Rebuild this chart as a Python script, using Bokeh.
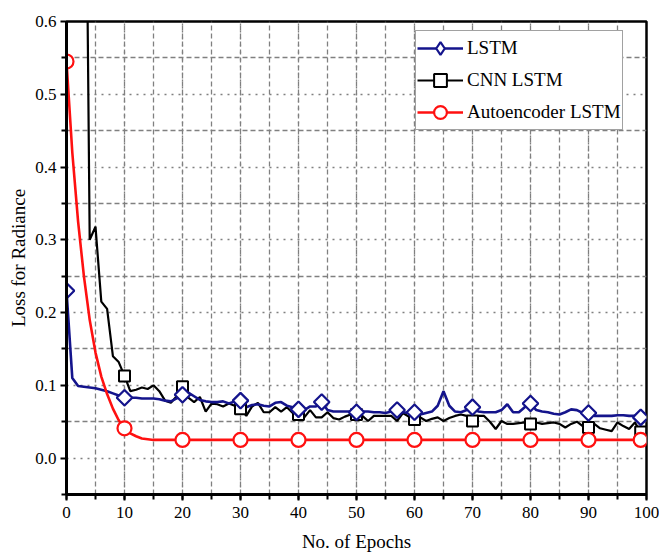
from bokeh.plotting import figure
from bokeh.models import (Range1d, SingleIntervalTicker, FixedTicker,
                          PrintfTickFormatter, Legend, LegendItem,
                          ColumnDataSource)
from bokeh.embed import file_html
from bokeh.resources import INLINE

# Training loss per epoch (0..99)
epochs = list(range(100))

lstm_loss = [
    0.230, 0.110, 0.099, 0.098, 0.097, 0.096, 0.094, 0.092, 0.089, 0.086,
    0.083, 0.083, 0.083, 0.082, 0.082, 0.082, 0.081, 0.079, 0.078, 0.082,
    0.087, 0.090, 0.085, 0.080, 0.078, 0.077, 0.077, 0.078, 0.075, 0.078,
    0.079, 0.070, 0.073, 0.074, 0.072, 0.071, 0.076, 0.077, 0.072, 0.070,
    0.067, 0.066, 0.071, 0.071, 0.077, 0.066, 0.064, 0.064, 0.064, 0.064,
    0.063, 0.064, 0.064, 0.063, 0.063, 0.062, 0.064, 0.066, 0.063, 0.062,
    0.063, 0.060, 0.062, 0.064, 0.072, 0.092, 0.072, 0.064, 0.063, 0.066,
    0.070, 0.064, 0.063, 0.063, 0.063, 0.066, 0.074, 0.063, 0.063, 0.070,
    0.075, 0.066, 0.064, 0.063, 0.061, 0.060, 0.063, 0.067, 0.066, 0.062,
    0.062, 0.058, 0.058, 0.058, 0.058, 0.059, 0.059, 0.058, 0.058, 0.056,
]

cnn_lstm_loss = [
    1.900, 1.600, 1.350, 1.150, 0.300, 0.318, 0.215, 0.205, 0.140, 0.132,
    0.113, 0.092, 0.094, 0.097, 0.095, 0.100, 0.092, 0.079, 0.076, 0.085,
    0.098, 0.083, 0.077, 0.084, 0.064, 0.075, 0.074, 0.071, 0.075, 0.072,
    0.068, 0.058, 0.071, 0.076, 0.063, 0.063, 0.070, 0.064, 0.070, 0.062,
    0.060, 0.056, 0.066, 0.056, 0.056, 0.063, 0.055, 0.053, 0.057, 0.060,
    0.060, 0.058, 0.051, 0.058, 0.058, 0.058, 0.058, 0.051, 0.062, 0.057,
    0.053, 0.056, 0.051, 0.054, 0.056, 0.051, 0.055, 0.058, 0.060, 0.058,
    0.051, 0.058, 0.058, 0.050, 0.040, 0.051, 0.047, 0.047, 0.048, 0.049,
    0.047, 0.049, 0.047, 0.048, 0.049, 0.047, 0.042, 0.047, 0.050, 0.044,
    0.042, 0.047, 0.041, 0.039, 0.037, 0.049, 0.044, 0.040, 0.049, 0.036,
]

autoencoder_lstm_loss = [
    0.545, 0.420, 0.325, 0.250, 0.190, 0.145, 0.112, 0.088, 0.068, 0.052,
    0.041, 0.034, 0.030, 0.027, 0.026, 0.025, 0.025, 0.025, 0.025, 0.025,
    0.025, 0.025, 0.025, 0.025, 0.025, 0.025, 0.025, 0.025, 0.025, 0.025,
    0.025, 0.025, 0.025, 0.025, 0.025, 0.025, 0.025, 0.025, 0.025, 0.025,
    0.025, 0.025, 0.025, 0.025, 0.025, 0.025, 0.025, 0.025, 0.025, 0.025,
    0.025, 0.025, 0.025, 0.025, 0.025, 0.025, 0.025, 0.025, 0.025, 0.025,
    0.025, 0.025, 0.025, 0.025, 0.025, 0.025, 0.025, 0.025, 0.025, 0.025,
    0.025, 0.025, 0.025, 0.025, 0.025, 0.025, 0.025, 0.025, 0.025, 0.025,
    0.025, 0.025, 0.025, 0.025, 0.025, 0.025, 0.025, 0.025, 0.025, 0.025,
    0.025, 0.025, 0.025, 0.025, 0.025, 0.025, 0.025, 0.025, 0.025, 0.025,
]

# Epochs at which each curve carries a symbol
marker_epochs = [0, 10, 20, 30, 40, 50, 60, 70, 80, 90, 99]
lstm_marker_epochs = [0, 10, 20, 30, 40, 44, 50, 57, 60, 70, 80, 90, 99]

series_names = ["LSTM", "CNN LSTM", "Autoencoder LSTM"]

# y-axis ticks
y_major_ticks = [0.0, 0.1, 0.2, 0.3, 0.4, 0.5, 0.6]
y_minor_ticks = [-0.05, 0.05, 0.15, 0.25, 0.35, 0.45, 0.55]

SERIF = "Liberation Serif"
BLUE = "#14148c"
RED = "#ff1010"
BLACK = "#000000"
GRID = "#808080"

p = figure(width=659, height=554,
           x_range=Range1d(0, 100), y_range=Range1d(-0.05, 0.6),
           output_backend="svg", toolbar_location=None,
           min_border_left=66, min_border_right=13,
           min_border_top=21, min_border_bottom=57,
           background_fill_color="white", border_fill_color="white")

# axes and ticks
xticker = SingleIntervalTicker(interval=10, num_minor_ticks=2)
yticker = FixedTicker(ticks=y_major_ticks, minor_ticks=y_minor_ticks)
p.xaxis.ticker = xticker
p.xgrid.ticker = xticker
p.yaxis.ticker = yticker
p.ygrid.ticker = yticker
p.yaxis.formatter = PrintfTickFormatter(format="%.1f")

for ax in (p.xaxis, p.yaxis):
    ax.axis_line_width = 3
    ax.axis_line_color = "black"
    ax.major_tick_line_width = 2
    ax.minor_tick_line_width = 2
    ax.major_tick_line_color = "black"
    ax.minor_tick_line_color = "black"
    ax.major_tick_in = 0
    ax.major_tick_out = 6
    ax.minor_tick_in = 0
    ax.minor_tick_out = 5
    ax.major_label_text_font = SERIF
    ax.major_label_text_font_size = "17px"
    ax.major_label_text_color = "black"
    ax.axis_label_text_font = SERIF
    ax.axis_label_text_font_size = "19px"
    ax.axis_label_text_font_style = "normal"
    ax.axis_label_text_color = "black"

p.xaxis.axis_label = "No. of Epochs"
p.yaxis.axis_label = "Loss for Radiance"
p.xaxis.major_label_standoff = 6
p.xaxis.axis_label_standoff = 10
p.yaxis.major_label_standoff = 4
p.yaxis.axis_label_standoff = 3

p.outline_line_color = "black"
p.outline_line_width = 2.5
p.outline_line_alpha = 1

# grid: dotted at major steps, dashed at half steps
for g in (p.xgrid, p.ygrid):
    g.grid_line_color = GRID
    g.grid_line_width = 1.3
    g.grid_line_dash = "2 5"
    g.minor_grid_line_color = GRID
    g.minor_grid_line_width = 1.3
    g.minor_grid_line_dash = "5 3"

lstm_src = ColumnDataSource(dict(x=epochs, y=lstm_loss))
cnn_src = ColumnDataSource(dict(x=epochs, y=cnn_lstm_loss))
ae_src = ColumnDataSource(dict(x=epochs, y=autoencoder_lstm_loss))

lstm_mk = ColumnDataSource(dict(x=lstm_marker_epochs,
                                y=[lstm_loss[e] for e in lstm_marker_epochs]))
cnn_mk = ColumnDataSource(dict(x=marker_epochs,
                               y=[cnn_lstm_loss[e] for e in marker_epochs]))
ae_mk = ColumnDataSource(dict(x=marker_epochs,
                              y=[autoencoder_lstm_loss[e] for e in marker_epochs]))

cnn_line = p.line("x", "y", source=cnn_src, line_color=BLACK, line_width=2.2)
lstm_line = p.line("x", "y", source=lstm_src, line_color=BLUE, line_width=2.6)
ae_line = p.line("x", "y", source=ae_src, line_color=RED, line_width=2.6)

cnn_pts = p.scatter("x", "y", source=cnn_mk, marker="square", size=11,
                    fill_color="white", line_color=BLACK, line_width=2)
# diamonds drawn as squares turned by 45 degrees
lstm_pts = p.scatter("x", "y", source=lstm_mk, marker="square", size=11,
                     angle=0.7853981634, fill_color="white",
                     line_color=BLUE, line_width=2.2)
ae_pts = p.scatter("x", "y", source=ae_mk, marker="circle", size=14,
                   fill_color="white", line_color=RED, line_width=2.2)

# legend swatch for the diamond symbol (legend glyphs ignore angle);
# it holds a single undefined point, so nothing shows inside the plot
nan = float("nan")
lstm_key = p.scatter(x=[nan], y=[nan], marker="diamond", size=17,
                     fill_color="white", line_color=BLUE, line_width=2.2)

legend = Legend(items=[
    LegendItem(label=series_names[0], renderers=[lstm_line, lstm_key]),
    LegendItem(label=series_names[1], renderers=[cnn_line, cnn_pts]),
    LegendItem(label=series_names[2], renderers=[ae_line, ae_pts]),
], location=(349, 364))
legend.label_text_font = SERIF
legend.label_text_font_size = "19px"
legend.label_text_color = "black"
legend.glyph_width = 46
legend.glyph_height = 32
legend.label_height = 22
legend.label_standoff = 4
legend.spacing = -2
legend.padding = 1
legend.margin = 0
legend.border_line_color = "#444444"
legend.border_line_width = 1.2
legend.background_fill_color = "white"
legend.background_fill_alpha = 1
p.add_layout(legend)

open("out.html", "w").write(file_html(p, INLINE))
